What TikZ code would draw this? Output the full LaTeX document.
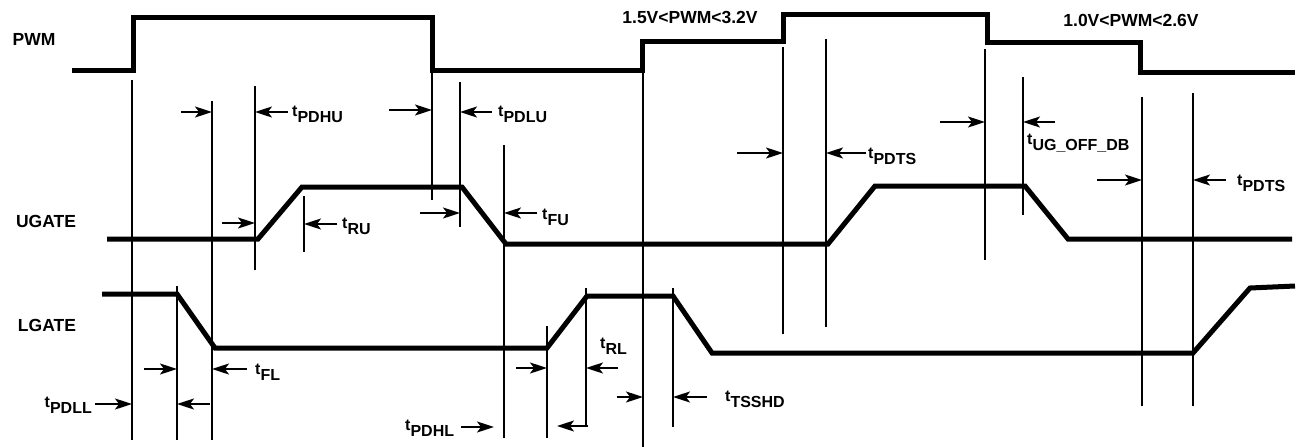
\documentclass[tikz,border=0pt]{standalone}
\usepackage{fontspec}
\setmainfont{Liberation Sans}
\usetikzlibrary{arrows.meta}

\newcommand{\tsub}[1]{t\raisebox{-6pt}{#1}}

\tikzset{
  wave/.style={line width=5pt},
  vline/.style={line width=1.7pt},
  darr/.style={line width=1.8pt, -{Stealth[length=17pt,width=11pt,inset=4pt]}},
  sig/.style={font=\fontsize{17.5}{20}\selectfont\bfseries, inner sep=0pt},
  tlab/.style={font=\fontsize{16}{18}\selectfont\bfseries, inner sep=0pt, anchor=west},
}

\begin{document}
\begin{tikzpicture}[x=1pt, y=-1pt]
  \useasboundingbox (0,0) rectangle (1301,447);
  % Signal names and levels
  \node[sig] (pwm) at (34,39) {PWM};
  \node[sig] (ugate) at (46,221) {UGATE};
  \node[sig] (lgate) at (47,325) {LGATE};
  \node[sig] (lvlhi) at (690,17) {1.5V<PWM<3.2V};
  \node[sig] (lvllo) at (1131,20) {1.0V<PWM<2.6V};

  % Waveforms
  \draw[wave] (72,70) -| (133,17) -| (432,70) -| (642,41) -| (783,14) -| (987,42) -| (1140,72) -- (1295,72);
  \draw[wave] (107,239) -- (258,239) -- (302,187) -- (462,187) -- (506,244) -- (828,244)
    -- (875,186) -- (1025,186) -- (1068,239) -- (1292,239);
  \draw[wave] (102,294) -- (177,294) -- (215,348) -- (547,348) -- (587,296) -- (673,296)
    -- (712,353) -- (1193,353) -- (1250,288) -- (1295,286);

  % Timing marks
  \draw[vline] (132,80) -- (132,440);    \draw[vline] (177,286) -- (177,440);
  \draw[vline] (212,101) -- (212,440);   \draw[vline] (255,86) -- (255,270);
  \draw[vline] (304,196) -- (304,252);   \draw[vline] (432,72) -- (432,200);
  \draw[vline] (460,82) -- (460,227);    \draw[vline] (504,145) -- (504,438);
  \draw[vline] (547,326) -- (547,438);   \draw[vline] (586,288) -- (586,426);
  \draw[vline] (643,40) -- (643,447);    \draw[vline] (673,288) -- (673,427);
  \draw[vline] (783,47) -- (783,334);    \draw[vline] (826,39) -- (826,327);
  \draw[vline] (985,49) -- (985,260);    \draw[vline] (1023,77) -- (1023,215);
  \draw[vline] (1142,97) -- (1142,406);  \draw[vline] (1193,93) -- (1193,406);

  % PWM to UGATE delays
  \draw[darr] (181,112) -- (212,112);    \draw[darr] (288,112) -- (255,112);
  \node[tlab] (tpdhu) at (292,114) {\tsub{PDHU}};
  \draw[darr] (389,110) -- (432,110);    \draw[darr] (492,112) -- (460,112);
  \node[tlab] (tpdlu) at (498,114) {\tsub{PDLU}};
  \draw[darr] (222,223) -- (255,223);    \draw[darr] (337,224) -- (304,224);
  \node[tlab] (tru) at (342,226) {\tsub{RU}};
  \draw[darr] (420,213) -- (460,213);    \draw[darr] (537,213) -- (504,213);
  \node[tlab] (tfu) at (542,217) {\tsub{FU}};
  \draw[darr] (737,153) -- (783,153);    \draw[darr] (866,153) -- (826,153);
  \node[tlab] (tpdts) at (868,156) {\tsub{PDTS}};
  \draw[darr] (940,122) -- (985,122);    \draw[darr] (1055,122) -- (1023,122);
  \node[tlab] (tugoff) at (1027,143) {\tsub{UG\_OFF\_DB}};
  \draw[darr] (1097,180) -- (1142,180);  \draw[darr] (1226,180) -- (1193,180);
  \node[tlab] (tpdtsb) at (1237,183) {\tsub{PDTS}};

  % PWM to LGATE delays
  \draw[darr] (144,369) -- (177,369);    \draw[darr] (247,369) -- (212,369);
  \node[tlab] (tfl) at (255,372) {\tsub{FL}};
  \node[tlab, anchor=east] (tpdll) at (92,405) {\tsub{PDLL}};
  \draw[darr] (95,404) -- (132,404);     \draw[darr] (210,404) -- (177,404);
  \node[tlab] (tpdhl) at (405,428) {\tsub{PDHL}};
  \draw[darr] (461,427) -- (494,427);
  \draw[darr] (516,368) -- (547,368);    \draw[darr] (618,368) -- (586,368);
  \node[tlab] (trl) at (600,346) {\tsub{RL}};
  \draw[darr] (588,426) -- (557,426);
  \draw[darr] (617,397) -- (643,397);    \draw[darr] (707,397) -- (673,397);
  \node[tlab] (ttsshd) at (725,399) {\tsub{TSSHD}};
\end{tikzpicture}
\end{document}
